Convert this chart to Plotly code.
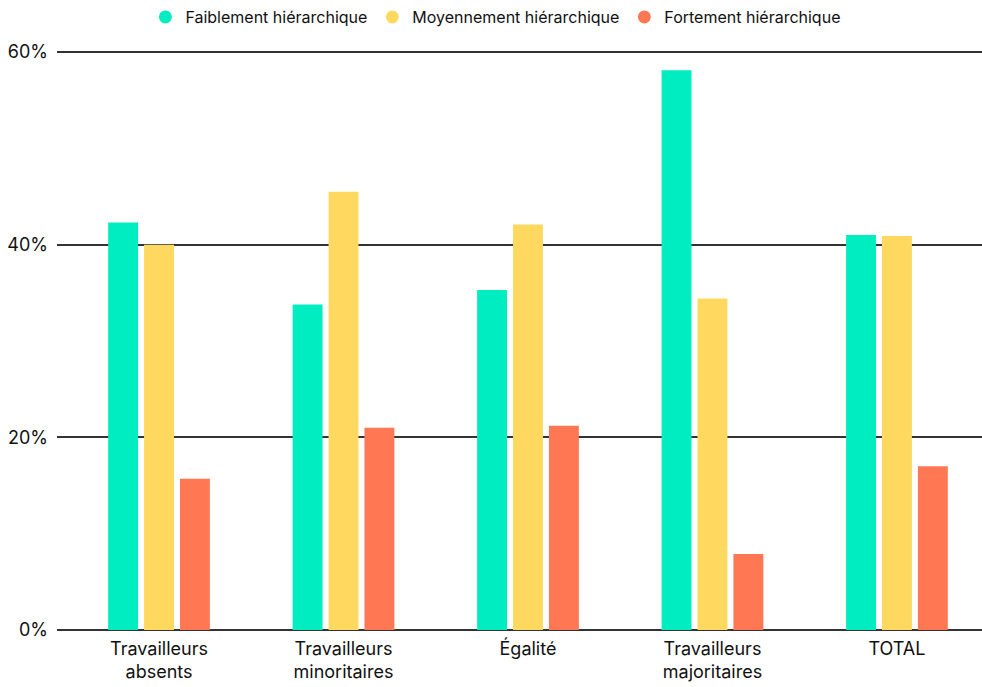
import plotly.graph_objects as go

categories = ["Travailleurs<br>absents", "Travailleurs<br>minoritaires", "Égalité",
              "Travailleurs<br>majoritaires", "TOTAL"]
series_names = ["Faiblement hiérarchique", "Moyennement hiérarchique", "Fortement hiérarchique"]
faible = [42.3, 33.8, 35.3, 58.1, 41.0]
moyen = [40.0, 45.5, 42.1, 34.4, 40.9]
fort = [15.7, 21.0, 21.2, 7.9, 17.0]
colors = ["#00EDC2", "#FFD95F", "#FF7853"]
tick_vals = [0, 20, 40, 60]
tick_text = ["0%", "20%", "40%", "60%"]

FONT = "Inter"
fig = go.Figure()
for name, vals, col in zip(series_names, [faible, moyen, fort], colors):
    fig.add_trace(go.Bar(x=categories, y=vals, name=name, marker=dict(color=col, line=dict(width=0)),
                         showlegend=False))
for name, col in zip(series_names, colors):
    fig.add_trace(go.Scatter(x=[None], y=[None], mode="markers", name=name,
                             marker=dict(symbol="circle", size=13, color=col)))

fig.update_layout(
    width=982, height=687,
    margin=dict(l=57, r=0, t=47, b=57),
    paper_bgcolor="white", plot_bgcolor="white",
    barmode="group", bargap=0.416, bargroupgap=0.167,
    font=dict(family=FONT, size=16, color="#111111"),
    legend=dict(orientation="h", x=0.505, xanchor="center", xref="container",
                y=1, yanchor="top", yref="container",
                font=dict(size=16, color="#111111"), itemwidth=30, traceorder="normal"),
    xaxis=dict(showgrid=False, showline=False, zeroline=False, ticks="",
               range=[-0.553, 4.461], tickfont=dict(size=18), ticklabelstandoff=6),
    yaxis=dict(range=[0, 60.52], tickvals=tick_vals, ticktext=tick_text, showgrid=True,
               gridcolor="#333333", gridwidth=2, zeroline=True, zerolinecolor="#333333",
               zerolinewidth=2, showline=False, ticks="", ticklabelstandoff=8,
               tickfont=dict(size=18), layer="below traces"),
)
fig.write_html("out.html")
